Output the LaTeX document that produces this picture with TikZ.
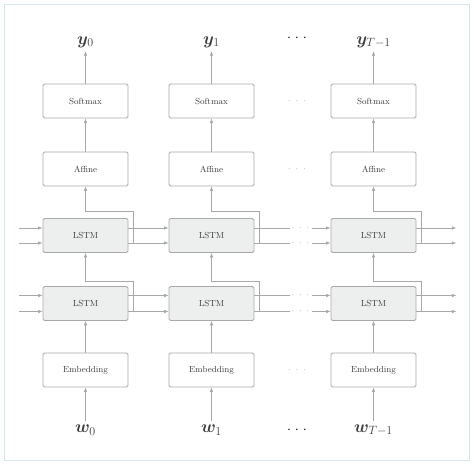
\documentclass[tikz,border=0pt]{standalone}
\usepackage{amsmath,bm}
\usetikzlibrary{arrows.meta, positioning, calc}
\definecolor{linea}{HTML}{A8A8A8}
\definecolor{bordo}{HTML}{A9A9A9}
\definecolor{riemp}{HTML}{EDEFEF}
\definecolor{testo}{HTML}{3C3C3C}
\definecolor{cornice}{HTML}{D2E8EA}
\tikzset{
  % blocco di uno strato
  blk/.style={draw=bordo, line width=0.8pt, rounded corners=1.5pt, minimum width=85pt,
    minimum height=34pt, fill=white, font=\fontsize{8.8}{10}\selectfont, text=testo,
    inner sep=0pt},
  lstmblk/.style={blk, fill=riemp},
  % collegamenti
  wire/.style={draw=linea, line width=0.7pt},
  flow/.style={wire, -{Latex[length=4.5pt, width=3.5pt]}},
  % etichette
  lbl/.style={font=\fontsize{18}{20}\selectfont, text=testo},
  gap/.style={font=\small, text=black!45},
  bigap/.style={font=\Large, text=black},
}
\newcommand{\puntini}[1]{$\cdot$\hspace{#1}$\cdot$\hspace{#1}$\cdot$}

\begin{document}
\begin{tikzpicture}[x=1pt, y=1pt]
  \useasboundingbox (0,0) rectangle (474,-464);
  \draw[cornice, line width=1pt] (4,-4) rectangle (469,-460);
  % colonne
  \foreach \c/\x/\s in {0/85.5/0, 1/211.5/1, 2/373.5/{T-1}} {
    \node[lbl] (y\c) at (\x,-42) {$\bm{y}_{\s}$};
    \node[blk] (sm\c) at (\x,-101) {Softmax};
    \node[blk] (af\c) at (\x,-169) {Affine};
    \node[lstmblk] (lu\c) at (\x,-235.5) {LSTM};
    \node[lstmblk] (ld\c) at (\x,-303.5) {LSTM};
    \node[blk] (em\c) at (\x,-370) {Embedding};
    \node[lbl] (w\c) at (\x,-430) {$\bm{w}_{\s}$};
    \draw[flow] (sm\c) -- (y\c);
    \draw[flow] (af\c) -- (sm\c);
    \draw[flow] (em\c) -- (ld\c);
    \draw[flow] (w\c) -- (em\c);
    % uscita h verso lo strato sopra
    \coordinate (hu\c) at ([xshift=5pt, yshift=-7.5pt]lu\c.east);
    \coordinate (hd\c) at ([xshift=5pt, yshift=-8pt]ld\c.east);
    \draw[flow] (hu\c) |- ([yshift=7pt]lu\c.north) -- (af\c);
    \draw[flow] (hd\c) |- ([yshift=5pt]ld\c.north) -- (lu\c);
  }
  % collegamenti orizzontali tra gli LSTM
  \foreach \n/\d in {lu/7.5, ld/8} {
    \draw[flow] ([yshift=\d pt]\n0.east) -- ([yshift=\d pt]\n1.west);
    \draw[flow] ([yshift=-\d pt]\n0.east) -- ([yshift=-\d pt]\n1.west);
    \draw[flow] ([xshift=-24pt, yshift=\d pt]\n0.west) -- ([yshift=\d pt]\n0.west);
    \draw[flow] ([xshift=-24pt, yshift=-\d pt]\n0.west) -- ([yshift=-\d pt]\n0.west);
    \draw[flow] ([yshift=\d pt]\n2.east) -- ++(40,0);
    \draw[flow] ([yshift=-\d pt]\n2.east) -- ++(40,0);
    % tratto con i puntini
    \foreach \s in {1,-1} {
      \draw[wire] ([yshift=\s*\d pt]\n1.east) -- ++(36,0);
      \node[gap] at ($([yshift=\s*\d pt]\n1.east)+(46,0)$) {\puntini{5pt}};
      \draw[flow] ([xshift=-19pt, yshift=\s*\d pt]\n2.west) -- ([yshift=\s*\d pt]\n2.west);
    }
  }
  \node[bigap] (dy) at (297,-38) {\puntini{4pt}};
  \node[gap] (dsm) at (297,-101) {\puntini{5pt}};
  \node[gap] (daf) at (297,-169) {\puntini{5pt}};
  \node[gap] (dem) at (297,-370) {\puntini{5pt}};
  \node[bigap] (dw) at (297,-430) {\puntini{4pt}};
\end{tikzpicture}
\end{document}
